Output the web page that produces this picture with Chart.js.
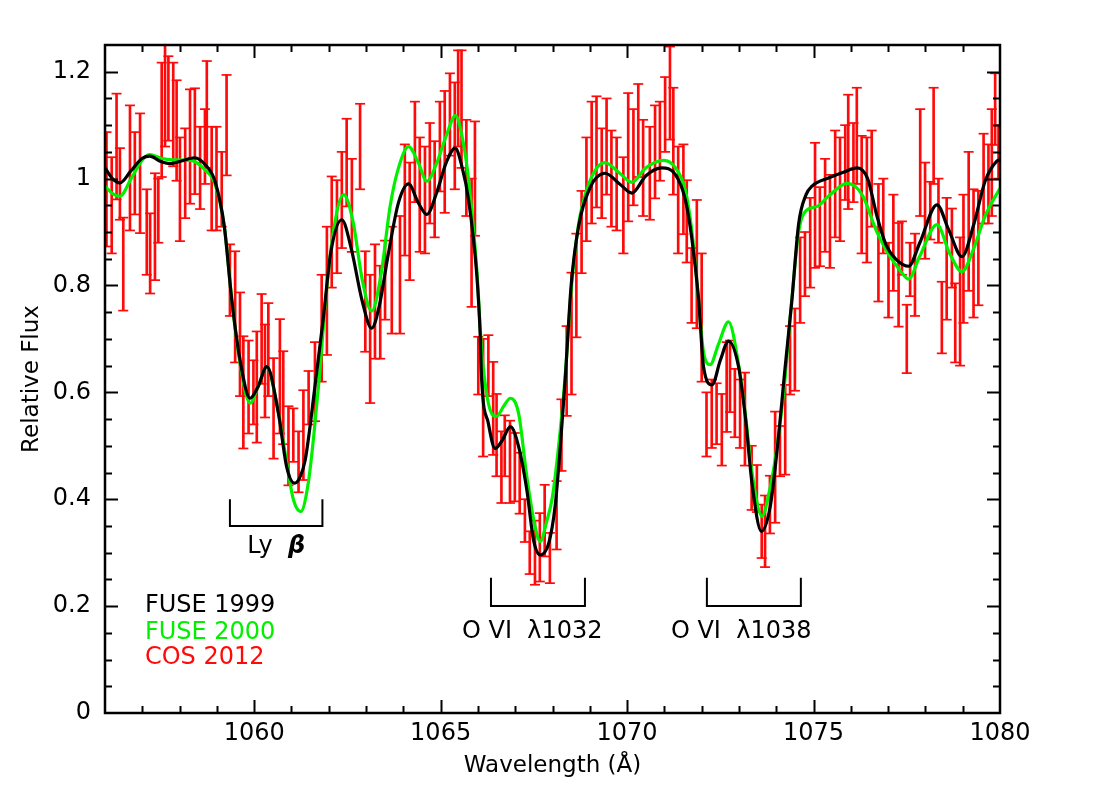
<!DOCTYPE html>
<html><head><meta charset="utf-8">
<script src="https://cdn.jsdelivr.net/npm/chart.js@4.4.0/dist/chart.umd.min.js"></script>
<style>html,body{margin:0;padding:0;background:#fff;}</style>
</head><body>
<canvas id="c" width="1100" height="799"></canvas>
<script>
// ---------------- DATA ----------------
const fuse99Lambda = [1056.0,1056.2,1056.4,1056.7,1057.0,1057.2,1057.5,1057.75,1058.05,1058.4,1058.7,1058.95,1059.2,1059.4,1059.62,1059.89,1060.1,1060.34,1060.65,1060.87,1061.08,1061.22,1061.37,1061.63,1061.86,1062.05,1062.35,1062.6,1062.9,1063.15,1063.35,1063.6,1063.87,1064.14,1064.4,1064.63,1064.9,1065.15,1065.39,1065.58,1065.75,1065.97,1066.06,1066.1,1066.28,1066.46,1066.65,1066.87,1067.09,1067.31,1067.49,1067.67,1067.9,1068.07,1068.21,1068.34,1068.5,1068.7,1069.0,1069.41,1069.8,1070.13,1070.5,1070.93,1071.29,1071.56,1071.74,1071.92,1072.05,1072.28,1072.5,1072.72,1072.99,1073.17,1073.35,1073.6,1073.84,1074.02,1074.24,1074.42,1074.6,1074.8,1074.96,1075.4,1075.8,1076.17,1076.45,1076.7,1076.95,1077.2,1077.55,1077.85,1078.31,1078.62,1078.98,1079.3,1079.6,1079.92,1080.0];
const fuse99Flux   = [1.02,1.0,0.992,1.015,1.038,1.042,1.032,1.028,1.033,1.039,1.025,0.995,0.91,0.773,0.661,0.589,0.61,0.648,0.561,0.461,0.43,0.44,0.474,0.611,0.742,0.86,0.923,0.87,0.77,0.72,0.76,0.86,0.955,0.99,0.955,0.933,0.975,1.03,1.057,1.02,0.96,0.82,0.71,0.624,0.542,0.495,0.51,0.536,0.499,0.418,0.324,0.296,0.318,0.387,0.499,0.624,0.8,0.911,0.982,1.01,0.99,0.973,1.005,1.02,1.008,0.961,0.886,0.773,0.648,0.614,0.66,0.696,0.648,0.555,0.43,0.34,0.387,0.49,0.648,0.773,0.915,0.97,0.986,1.001,1.012,1.02,1.0,0.93,0.875,0.85,0.836,0.88,0.951,0.905,0.854,0.915,0.995,1.033,1.035];

const fuse00Lambda = [1056.0,1056.2,1056.4,1056.7,1057.0,1057.2,1057.5,1057.8,1058.3,1058.7,1058.95,1059.2,1059.4,1059.62,1059.89,1060.1,1060.34,1060.6,1060.87,1061.05,1061.25,1061.45,1061.6,1061.75,1061.9,1062.1,1062.4,1062.65,1062.9,1063.15,1063.4,1063.65,1063.87,1064.14,1064.4,1064.63,1064.9,1065.15,1065.4,1065.6,1065.75,1065.97,1066.1,1066.28,1066.5,1066.7,1066.87,1067.09,1067.31,1067.5,1067.67,1067.85,1068.0,1068.21,1068.34,1068.5,1068.7,1069.0,1069.41,1069.8,1070.13,1070.5,1070.98,1071.3,1071.56,1071.74,1071.92,1072.05,1072.23,1072.45,1072.72,1073.0,1073.17,1073.35,1073.62,1073.8,1073.97,1074.2,1074.4,1074.6,1074.8,1075.1,1075.4,1075.9,1076.3,1076.7,1077.0,1077.3,1077.55,1077.85,1078.31,1078.65,1078.98,1079.3,1079.6,1080.0];
const fuse00Flux   = [0.986,0.972,0.967,1.0,1.035,1.045,1.038,1.035,1.034,1.015,0.99,0.91,0.773,0.655,0.58,0.61,0.648,0.58,0.47,0.40,0.377,0.43,0.52,0.63,0.76,0.89,0.97,0.92,0.81,0.752,0.82,0.95,1.02,1.06,1.03,0.995,1.03,1.08,1.118,1.07,0.998,0.83,0.68,0.58,0.555,0.575,0.589,0.561,0.443,0.36,0.321,0.36,0.405,0.53,0.63,0.79,0.915,0.995,1.03,1.01,0.993,1.02,1.034,1.02,0.979,0.9,0.77,0.675,0.652,0.69,0.732,0.648,0.56,0.45,0.368,0.41,0.474,0.6,0.76,0.9,0.94,0.948,0.967,0.991,0.97,0.9,0.86,0.83,0.812,0.855,0.914,0.86,0.826,0.87,0.93,0.982];

const cosLambda = [1056.04,1056.18,1056.31,1056.40,1056.49,1056.67,1056.80,1056.94,1057.12,1057.21,1057.34,1057.43,1057.52,1057.61,1057.70,1057.83,1057.92,1058.01,1058.15,1058.28,1058.41,1058.55,1058.68,1058.73,1058.86,1058.99,1059.13,1059.26,1059.35,1059.49,1059.62,1059.71,1059.85,1059.98,1060.07,1060.20,1060.29,1060.38,1060.52,1060.69,1060.78,1060.92,1061.05,1061.19,1061.32,1061.46,1061.63,1061.81,1061.95,1062.08,1062.22,1062.35,1062.48,1062.62,1062.84,1062.98,1063.11,1063.24,1063.38,1063.51,1063.69,
 1063.91,1064.04,1064.17,1064.31,1064.44,1064.58,1064.71,1064.84,1064.98,1065.11,1065.25,1065.38,1065.47,1065.56,1065.69,1065.83,1065.92,1066.01,1066.14,1066.28,1066.41,1066.50,1066.63,1066.72,1066.86,1066.99,1067.12,1067.26,1067.39,1067.53,1067.66,1067.79,1067.93,1068.11,1068.24,1068.38,1068.51,1068.64,1068.78,1068.91,1069.05,1069.18,1069.32,1069.45,1069.58,1069.72,1069.90,1070.03,1070.17,1070.30,1070.43,1070.61,1070.75,1070.88,1071.02,1071.15,1071.24,1071.37,1071.51,1071.60,1071.73,
 1071.87,1072.00,1072.13,1072.27,1072.40,1072.54,1072.67,1072.76,1072.89,1073.03,1073.16,1073.34,1073.48,1073.61,1073.70,1073.83,1073.97,1074.10,1074.24,1074.37,1074.50,1074.64,1074.77,1074.91,1075.04,1075.17,1075.31,1075.44,1075.58,1075.71,1075.85,1075.93,1076.07,1076.16,1076.29,1076.43,1076.56,1076.74,1076.87,1077.01,1077.14,1077.28,1077.37,1077.50,1077.59,1077.72,1077.86,1077.99,1078.13,1078.22,1078.35,1078.44,1078.57,1078.71,1078.80,1078.93,1079.02,1079.16,1079.29,1079.42,1079.56,1079.69,1079.78,1079.87,1079.96];
const cosFlux = [0.98,0.95,1.06,0.99,0.84,1.02,1.01,1.01,0.90,0.86,0.91,0.94,1.11,1.16,1.15,1.12,1.09,0.98,1.01,1.06,1.07,1.02,1.06,1.12,1.00,1.00,0.98,1.10,0.81,0.76,0.69,0.60,0.61,0.60,0.61,0.70,0.64,0.68,0.57,0.63,0.59,0.50,0.52,0.47,0.52,0.59,0.62,0.72,0.79,0.90,0.91,0.96,1.03,0.95,1.06,0.77,0.70,0.77,0.75,0.81,0.81,
 0.82,0.96,0.92,1.05,0.97,0.96,1.01,0.98,1.06,1.05,1.12,1.08,1.15,1.13,1.02,0.88,1.00,0.65,0.59,0.65,0.57,0.52,0.46,0.50,0.47,0.46,0.43,0.36,0.30,0.30,0.31,0.36,0.29,0.37,0.52,0.64,0.71,0.80,0.90,0.98,1.03,1.05,1.01,1.06,1.00,0.99,0.95,1.04,1.04,1.09,1.02,1.01,1.05,1.07,1.12,1.16,1.07,0.96,0.98,0.92,0.80,
 0.84,0.74,0.54,0.56,0.56,0.53,0.61,0.63,0.58,0.56,0.55,0.44,0.42,0.34,0.34,0.39,0.46,0.49,0.53,0.66,0.68,0.81,0.84,0.88,0.95,0.91,0.95,0.92,0.99,0.98,1.03,1.05,1.03,1.08,0.97,0.96,1.00,0.88,0.93,0.81,0.88,0.82,0.87,0.70,0.83,0.82,1.03,0.94,0.94,1.08,0.94,0.74,0.85,0.87,0.73,0.77,0.85,0.92,0.86,0.87,1.00,0.99,1.03,1.13,1.05];
const cosErr = [0.107,0.09,0.099,0.067,0.087,0.117,0.077,0.112,0.08,0.075,0.10,0.06,0.107,0.10,0.079,0.097,0.094,0.097,0.084,0.107,0.099,0.077,0.07,0.10,0.097,0.097,0.07,0.094,0.067,0.104,0.097,0.105,0.087,0.06,0.104,0.084,0.087,0.087,0.094,0.107,0.087,0.074,0.05,0.057,0.084,0.05,0.074,0.10,0.12,0.104,0.087,0.09,0.082,0.087,0.08,0.094,0.12,0.107,0.087,0.074,0.10,
 0.11,0.104,0.11,0.094,0.107,0.10,0.094,0.09,0.084,0.114,0.077,0.10,0.09,0.11,0.09,0.12,0.107,0.054,0.11,0.057,0.087,0.077,0.067,0.057,0.077,0.064,0.057,0.04,0.04,0.06,0.064,0.067,0.047,0.064,0.067,0.084,0.114,0.097,0.077,0.097,0.114,0.104,0.084,0.09,0.09,0.087,0.09,0.12,0.09,0.087,0.09,0.087,0.087,0.074,0.07,0.087,0.10,0.10,0.084,0.077,0.07,
 0.12,0.12,0.06,0.064,0.057,0.067,0.084,0.067,0.064,0.064,0.087,0.06,0.044,0.05,0.067,0.054,0.104,0.047,0.084,0.064,0.077,0.08,0.06,0.084,0.117,0.074,0.087,0.087,0.10,0.097,0.07,0.107,0.074,0.09,0.11,0.117,0.09,0.11,0.07,0.07,0.09,0.097,0.05,0.064,0.05,0.077,0.10,0.09,0.054,0.09,0.06,0.067,0.114,0.074,0.074,0.12,0.12,0.13,0.12,0.107,0.084,0.074,0.10,0.067,0.05];

const xTickValues = [1060, 1065, 1070, 1075, 1080];
const yTickValues = [0, 0.2, 0.4, 0.6, 0.8, 1, 1.2];
const yTickLabels = ['0', '0.2', '0.4', '0.6', '0.8', '1', '1.2'];

const seriesNames = ['FUSE 1999', 'FUSE 2000', 'COS 2012'];

// line identifications (wavelength range of each bracket)
const lineNames  = ['Ly', 'O VI  λ1032', 'O VI  λ1038'];
const lineStart  = [1059.35, 1066.35, 1072.14];
const lineEnd    = [1061.83, 1068.87, 1074.66];

// ---------------- STYLE / LAYOUT ----------------
const FONT = "'DejaVu Sans', 'Liberation Sans', sans-serif";
const RED = '#ff0a0a', GREEN = '#00f000', BLACK = '#000000';
const bracketTop = [0.40, 0.253, 0.253];
const bracketBottom = [0.35, 0.20, 0.20];
const labelY = [0.311, 0.152, 0.152];
const labelX = [1060.59, 1067.46, 1073.06];

const errorBars = cosLambda.map((x, i) => ({x, y: [cosFlux[i] - cosErr[i], cosFlux[i] + cosErr[i]]}));
const errorCaps = [];
cosLambda.forEach((x, i) => {
  errorCaps.push({x, y: cosFlux[i] - cosErr[i]});
  errorCaps.push({x, y: cosFlux[i] + cosErr[i]});
});

const decor = {
  id: 'decor',
  afterDraw(chart) {
    const {ctx, chartArea: a, scales: {x, y}} = chart;
    ctx.save();
    // frame
    ctx.strokeStyle = BLACK;
    ctx.lineWidth = 2.5;
    ctx.strokeRect(a.left, a.top, a.right - a.left, a.bottom - a.top);
    // inward ticks on all four sides
    ctx.lineWidth = 2;
    ctx.beginPath();
    for (let v = 1057; v < 1080; v++) {
      const px = Math.round(x.getPixelForValue(v)) + 0.5;
      const L = (v % 5 === 0) ? 13 : 7;
      ctx.moveTo(px, a.bottom); ctx.lineTo(px, a.bottom - L);
      ctx.moveTo(px, a.top); ctx.lineTo(px, a.top + L);
    }
    for (let i = 1; i < 25; i++) {
      const v = i * 0.05;
      const py = Math.round(y.getPixelForValue(v)) + 0.5;
      const L = (i % 4 === 0) ? 13 : 7;
      ctx.moveTo(a.left, py); ctx.lineTo(a.left + L, py);
      ctx.moveTo(a.right, py); ctx.lineTo(a.right - L, py);
    }
    ctx.stroke();

    // legend as coloured text
    const colors = [BLACK, GREEN, RED];
    const legendY = [0.200, 0.150, 0.103];
    ctx.font = '24px ' + FONT;
    ctx.textBaseline = 'middle';
    ctx.textAlign = 'left';
    seriesNames.forEach((n, i) => {
      ctx.fillStyle = colors[i];
      ctx.fillText(n, x.getPixelForValue(1057.07), y.getPixelForValue(legendY[i]));
    });

    // brackets & identifications
    ctx.strokeStyle = BLACK;
    ctx.fillStyle = BLACK;
    ctx.lineWidth = 2;
    lineNames.forEach((n, i) => {
      const x0 = x.getPixelForValue(lineStart[i]), x1 = x.getPixelForValue(lineEnd[i]);
      const yt = y.getPixelForValue(bracketTop[i]), yb = y.getPixelForValue(bracketBottom[i]);
      ctx.beginPath();
      ctx.moveTo(x0, yt); ctx.lineTo(x0, yb); ctx.lineTo(x1, yb); ctx.lineTo(x1, yt);
      ctx.stroke();
      const cx = x.getPixelForValue(labelX[i]), cy = y.getPixelForValue(labelY[i]);
      ctx.textAlign = 'center';
      if (i === 0) {
        ctx.font = '24px ' + FONT;
        const w1 = ctx.measureText('Ly  ').width;
        ctx.font = 'italic bold 24px ' + FONT;
        const w2 = ctx.measureText('β').width;
        const start = cx - (w1 + w2) / 2;
        ctx.textAlign = 'left';
        ctx.font = '24px ' + FONT;
        ctx.fillText('Ly  ', start, cy);
        ctx.font = 'italic bold 24px ' + FONT;
        ctx.fillText('β', start + w1, cy);
      } else {
        ctx.font = '24px ' + FONT;
        ctx.fillText(n, cx, cy);
      }
    });
    ctx.restore();
  }
};

new Chart(document.getElementById('c'), {
  type: 'line',
  data: {
    datasets: [
      {label: seriesNames[0], data: fuse99Lambda.map((x, i) => ({x, y: fuse99Flux[i]})),
       borderColor: BLACK, borderWidth: 3.2, pointRadius: 0, cubicInterpolationMode: 'monotone', order: 0},
      {label: seriesNames[1], data: fuse00Lambda.map((x, i) => ({x, y: fuse00Flux[i]})),
       borderColor: GREEN, borderWidth: 3.2, pointRadius: 0, cubicInterpolationMode: 'monotone', order: 1},
      {label: seriesNames[2] + ' caps', type: 'line', showLine: false, data: errorCaps,
       pointStyle: 'line', pointRadius: 5, pointBorderColor: RED, pointBorderWidth: 1.7, borderColor: RED, order: 2},
      {label: seriesNames[2], type: 'bar', data: errorBars, backgroundColor: RED, borderWidth: 0,
       barThickness: 2, order: 3}
    ]
  },
  options: {
    responsive: false, animation: false, devicePixelRatio: 1,
    layout: {padding: {left: 0, right: 100, top: 45, bottom: 0}},
    plugins: {legend: {display: false}, tooltip: {enabled: false}},
    scales: {
      x: {
        type: 'linear', min: 1056, max: 1080, offset: false,
        grid: {display: false, drawTicks: false, offset: false},
        border: {display: false},
        afterBuildTicks: s => { s.ticks = xTickValues.map(v => ({value: v})); },
        afterFit: s => { s.height = 86; },
        ticks: {font: {family: FONT, size: 24}, color: BLACK, padding: 6, maxRotation: 0, autoSkip: false,
                callback: (v) => String(v)},
        title: {display: true, text: 'Wavelength (Å)', color: BLACK, font: {family: FONT, size: 23},
                padding: {top: 0, bottom: 19}}
      },
      y: {
        type: 'linear', min: 0, max: 1.25,
        grid: {display: false, drawTicks: false},
        border: {display: false},
        afterBuildTicks: s => { s.ticks = yTickValues.map(v => ({value: v})); },
        afterFit: s => { s.width = 105; },
        ticks: {font: {family: FONT, size: 24}, color: BLACK, padding: 14, autoSkip: false,
                callback: (v, i) => yTickLabels[i]},
        title: {display: true, text: 'Relative Flux', color: BLACK, font: {family: FONT, size: 23},
                padding: {top: 18, bottom: 0}}
      }
    }
  },
  plugins: [decor]
});
</script>
</body></html>
